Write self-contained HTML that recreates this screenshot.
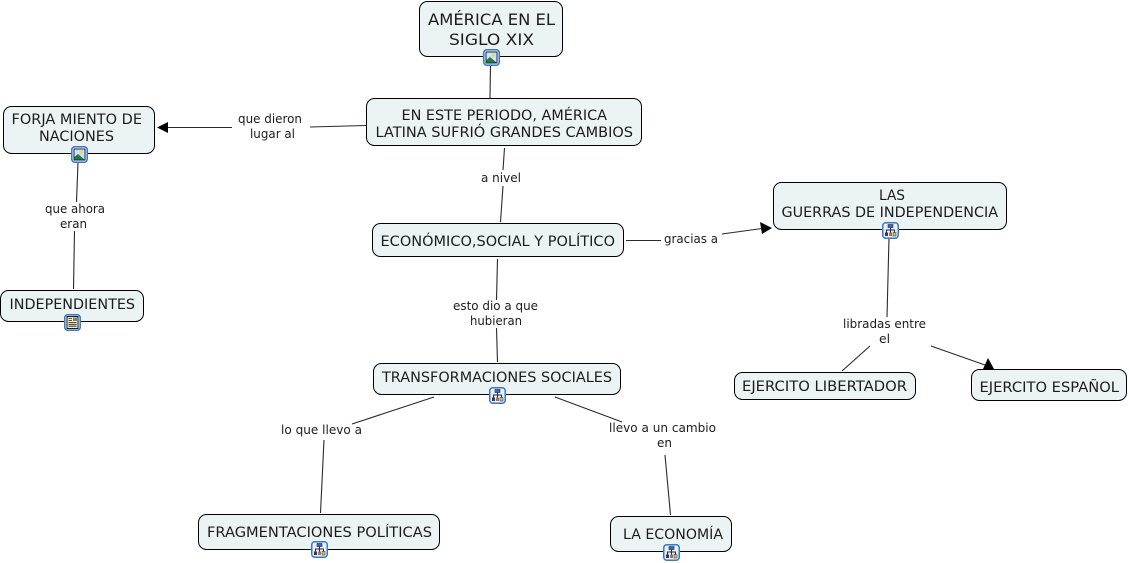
<!DOCTYPE html>
<html><head><meta charset="utf-8"><style>
html,body{margin:0;padding:0;background:#fff;width:1129px;height:563px;overflow:hidden}
svg{display:block}
.n{fill:#ecf3f5;stroke:#000;stroke-width:1}
.l{stroke:#2a2a2a;stroke-width:1.1;fill:none}
.a{fill:#000;stroke:none}
text{font-family:"DejaVu Sans","Liberation Sans",sans-serif;fill:#1c1c1c}
.t{font-size:14px}
.b{font-size:16px}
.s{font-size:12px}
</style></head><body>
<svg width="1129" height="563" viewBox="0 0 1129 563" xmlns="http://www.w3.org/2000/svg">
<defs>
<g id="frame"><rect x="0.75" y="0.75" width="15.5" height="15.5" rx="3" fill="#e8f0fa" stroke="#3a78c4" stroke-width="1.5"/></g>
<g id="img"><use href="#frame"/><rect x="3" y="3" width="11" height="11" fill="#cfe3f5" stroke="#1a2a4a" stroke-width="1"/><circle cx="10.500" cy="6" r="1.800" fill="#e9d96a"/><path d="M3.500 13.500V11L7 8L13.500 13.500Z" fill="#23784a"/></g>
<g id="map"><use href="#frame"/><path d="M8.500 5V8M4.500 11V8H12.500V11M8.500 8V11" stroke="#1a2a4a" stroke-width="1" fill="none"/><rect x="6" y="2.500" width="5" height="3" fill="#4a63b5" stroke="#1a2a4a" stroke-width=".6"/><rect x="3" y="10.500" width="3" height="3.500" fill="#2a3a6a"/><rect x="7" y="10.500" width="3" height="3.500" fill="#b56a5a"/><rect x="11" y="10.500" width="3" height="3.500" fill="#d9c44a" stroke="#1a2a4a" stroke-width=".5"/></g>
<g id="doc"><use href="#frame"/><rect x="3" y="2.500" width="11" height="12" fill="#f4eecb" stroke="#1a1a1a" stroke-width="1"/><rect x="9" y="3.500" width="4" height="3.500" fill="#6c8a7a"/><path d="M4.500 4.500H8M4.500 6.500H8M4.500 8.500H12.500M4.500 10.300H12.500M4.500 12.200H12.500" stroke="#1a1a1a" stroke-width=".8"/></g>
</defs>

<path class="l" d="M490.500 65L490 98"/>
<path class="l" d="M366 125.500L310 127M232 127.500H166"/>
<path class="a" d="M157 127.500L168 122V133Z"/>
<path class="l" d="M78 162L76.500 202M74.500 231L73.500 289"/>
<path class="l" d="M504.500 148L503 170M503 186L500.500 222"/>
<path class="l" d="M626 240.500H661M722 234L762 228.500"/>
<path class="a" d="M772 228L760 222L762 234Z"/>
<path class="l" d="M497.500 259L496.500 300M496.500 328L497.500 362"/>
<path class="l" d="M434 397L352 424M324 440L320.500 513"/>
<path class="l" d="M555 397L622 422M665 455L670.500 515"/>
<path class="l" d="M889 238L887 317M870 346L842 371M931 346L985 365"/>
<path class="a" d="M994 369L988 358L983 369Z"/>

<rect class="n" x="419.500" y="1.500" width="143" height="55" rx="8"/>
<rect class="n" x="366.500" y="98.500" width="275" height="47" rx="8"/>
<rect class="n" x="3.500" y="106.500" width="151" height="47" rx="8"/>
<rect class="n" x="0.500" y="290.500" width="143" height="31" rx="8"/>
<rect class="n" x="372.500" y="223.500" width="251" height="33" rx="8"/>
<rect class="n" x="773.500" y="182.500" width="233" height="47" rx="8"/>
<rect class="n" x="373.500" y="363.500" width="247" height="31" rx="8"/>
<rect class="n" x="734.500" y="372.500" width="181" height="27" rx="8"/>
<rect class="n" x="971.500" y="369.500" width="155" height="31" rx="8"/>
<rect class="n" x="198.500" y="514.500" width="241" height="35" rx="8"/>
<rect class="n" x="610.500" y="516.500" width="121" height="35" rx="8"/>

<use href="#img" x="483" y="49"/>
<use href="#img" x="71" y="146"/>
<use href="#doc" x="64" y="314"/>
<use href="#map" x="882" y="222"/>
<use href="#map" x="489" y="387"/>
<use href="#map" x="311" y="541"/>
<use href="#map" x="663" y="544"/>

<text class="b" x="428" y="25" textLength="127" lengthAdjust="spacingAndGlyphs">AMÉRICA EN EL</text>
<text class="b" x="449" y="45" textLength="85" lengthAdjust="spacingAndGlyphs">SIGLO XIX</text>
<text class="t" x="401.500" y="120" textLength="205.500" lengthAdjust="spacingAndGlyphs">EN ESTE PERIODO, AMÉRICA</text>
<text class="t" x="375.500" y="137" textLength="257.500" lengthAdjust="spacingAndGlyphs">LATINA SUFRIÓ GRANDES CAMBIOS</text>
<text class="t" x="11.500" y="124" textLength="130.500" lengthAdjust="spacingAndGlyphs">FORJA MIENTO DE</text>
<text class="t" x="39" y="141" textLength="75" lengthAdjust="spacingAndGlyphs">NACIONES</text>
<text class="t" x="9.500" y="309" textLength="125.500" lengthAdjust="spacingAndGlyphs">INDEPENDIENTES</text>
<text class="t" x="380.500" y="246" textLength="234.500" lengthAdjust="spacingAndGlyphs">ECONÓMICO,SOCIAL Y POLÍTICO</text>
<text class="t" x="879" y="200" textLength="26" lengthAdjust="spacingAndGlyphs">LAS</text>
<text class="t" x="781.500" y="217" textLength="216.500" lengthAdjust="spacingAndGlyphs">GUERRAS DE INDEPENDENCIA</text>
<text class="t" x="382" y="382" textLength="230" lengthAdjust="spacingAndGlyphs">TRANSFORMACIONES SOCIALES</text>
<text class="t" x="742" y="391" textLength="165" lengthAdjust="spacingAndGlyphs">EJERCITO LIBERTADOR</text>
<text class="t" x="979.500" y="392" textLength="139.500" lengthAdjust="spacingAndGlyphs">EJERCITO ESPAÑOL</text>
<text class="t" x="207" y="537" textLength="225" lengthAdjust="spacingAndGlyphs">FRAGMENTACIONES POLÍTICAS</text>
<text class="t" x="623" y="539" textLength="100" lengthAdjust="spacingAndGlyphs">LA ECONOMÍA</text>

<text class="s" x="238" y="123" textLength="64" lengthAdjust="spacingAndGlyphs">que dieron</text>
<text class="s" x="250" y="138" textLength="45" lengthAdjust="spacingAndGlyphs">lugar al</text>
<text class="s" x="45" y="213" textLength="60" lengthAdjust="spacingAndGlyphs">que ahora</text>
<text class="s" x="60" y="228" textLength="27" lengthAdjust="spacingAndGlyphs">eran</text>
<text class="s" x="481" y="182" textLength="40" lengthAdjust="spacingAndGlyphs">a nivel</text>
<text class="s" x="664" y="243" textLength="54" lengthAdjust="spacingAndGlyphs">gracias a</text>
<text class="s" x="453" y="310" textLength="85" lengthAdjust="spacingAndGlyphs">esto dio a que</text>
<text class="s" x="470" y="325" textLength="52" lengthAdjust="spacingAndGlyphs">hubieran</text>
<text class="s" x="843" y="328" textLength="83" lengthAdjust="spacingAndGlyphs">libradas entre</text>
<text class="s" x="879" y="343" textLength="11" lengthAdjust="spacingAndGlyphs">el</text>
<text class="s" x="281" y="434" textLength="81" lengthAdjust="spacingAndGlyphs">lo que llevo a</text>
<text class="s" x="609" y="432" textLength="107" lengthAdjust="spacingAndGlyphs">llevo a un cambio</text>
<text class="s" x="657" y="447" textLength="15" lengthAdjust="spacingAndGlyphs">en</text>
</svg>
</body></html>
